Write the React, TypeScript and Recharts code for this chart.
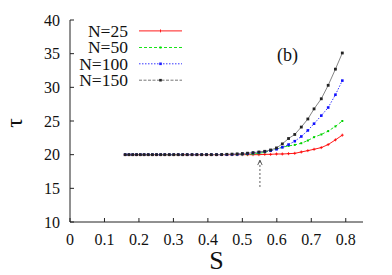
import React from "react";
import {
  LineChart,
  Line,
  XAxis,
  YAxis,
  ReferenceLine,
  ReferenceDot,
} from "recharts";

// S values (x axis)
const sValues = [
  0.16, 0.171, 0.182, 0.193, 0.204, 0.215, 0.227, 0.239, 0.251, 0.263, 0.275,
  0.288, 0.301, 0.314, 0.327, 0.34, 0.354, 0.368, 0.382, 0.396, 0.41, 0.425,
  0.44, 0.455, 0.47, 0.485, 0.5, 0.515, 0.531, 0.548, 0.565, 0.582, 0.599,
  0.616, 0.634, 0.652, 0.671, 0.69, 0.708, 0.729, 0.749, 0.77, 0.79,
];

const tauN25 = [
  20, 20, 20, 20, 20, 20, 20, 20, 20, 20, 20, 20, 20, 20, 20, 20, 20, 20, 20,
  20, 20, 20, 20, 20, 20, 20, 20, 20, 20, 20, 20.05, 20.05, 20.1, 20.1, 20.15,
  20.2, 20.4, 20.6, 20.8, 21.05, 21.5, 22.2, 22.9,
];

const tauN50 = [
  20, 20, 20, 20, 20, 20, 20, 20, 20, 20, 20, 20, 20, 20, 20, 20, 20, 20, 20,
  20, 20, 20, 20, 20, 20, 20, 20.02, 20.05, 20.1, 20.2, 20.35, 20.6, 20.85,
  21.1, 21.3, 21.45, 21.7, 22.1, 22.6, 23.0, 23.5, 24.2, 25.0,
];

const tauN100 = [
  20, 20, 20, 20, 20, 20, 20, 20, 20, 20, 20, 20, 20, 20, 20, 20, 20, 20, 20,
  20, 20, 20, 20, 20, 20.03, 20.05, 20.1, 20.15, 20.25, 20.35, 20.45, 20.6,
  20.8, 21.1, 21.5, 22.0, 22.7, 23.6, 24.6, 25.8, 27.0, 28.9, 31.0,
];

const tauN150 = [
  20, 20, 20, 20, 20, 20, 20, 20, 20, 20, 20, 20, 20, 20, 20, 20, 20, 20, 20,
  20, 20, 20, 20.02, 20.05, 20.08, 20.12, 20.17, 20.22, 20.3, 20.4, 20.5, 20.7,
  21.0, 21.6, 22.4, 23.0, 24.1, 25.3, 26.8, 28.3, 30.3, 32.7, 35.1,
];

const xTicks = [0, 0.1, 0.2, 0.3, 0.4, 0.5, 0.6, 0.7, 0.8];
const yTicks = [10, 15, 20, 25, 30, 35, 40];
const seriesNames = ["N=25", "N=50", "N=100", "N=150"];

const arrowS = 0.551;
const arrowFrom = 15.2;
const arrowTo = 19.2;

const data = sValues.map((s, i) => ({
  s,
  n25: tauN25[i],
  n50: tauN50[i],
  n100: tauN100[i],
  n150: tauN150[i],
}));

const font = "'Liberation Serif', 'Times New Roman', serif";
const axisColor = "#222";

const plusDot = (color: string) => (props: any) => {
  const { cx, cy, index } = props;
  return (
    <g key={`p-${index}`}>
      <line x1={cx - 1.5} x2={cx + 1.5} y1={cy} y2={cy} stroke={color} strokeWidth={0.8} />
      <line x1={cx} x2={cx} y1={cy - 1.5} y2={cy + 1.5} stroke={color} strokeWidth={0.8} />
    </g>
  );
};

const squareDot = (color: string, size: number) => (props: any) => {
  const { cx, cy, index } = props;
  return (
    <rect
      key={`q-${index}`}
      x={cx - size / 2}
      y={cy - size / 2}
      width={size}
      height={size}
      fill={color}
    />
  );
};

const legendStyles = [
  { stroke: "#ff0000", dash: undefined, marker: "plus" },
  { stroke: "#00e000", dash: "3 2", marker: "sq2" },
  { stroke: "#2020ff", dash: "1.5 1.5", marker: "sq3" },
  { stroke: "#666", dash: "3 1.5", marker: "sq3k" },
];

const LegendBox = () => {
  const baselines = [36.7, 53.3, 69.6, 86];
  return (
    <svg
      width={392}
      height={275}
      style={{ position: "absolute", left: 0, top: 0, pointerEvents: "none" }}
    >
      {seriesNames.map((name, i) => {
        const st = legendStyles[i];
        const ly = baselines[i] - 5.8;
        const mx = 160.5;
        return (
          <g key={name}>
            <text
              x={128}
              y={baselines[i]}
              textAnchor="end"
              fontFamily={font}
              fontSize={17.5}
              fill="#111"
            >
              {name}
            </text>
            <line
              x1={139}
              x2={182}
              y1={ly}
              y2={ly}
              stroke={st.stroke}
              strokeWidth={0.9}
              strokeDasharray={st.dash}
            />
            {st.marker === "plus" && (
              <line x1={mx} x2={mx} y1={ly - 1.5} y2={ly + 1.5} stroke={st.stroke} strokeWidth={0.8} />
            )}
            {st.marker === "sq2" && (
              <rect x={mx - 1} y={ly - 1} width={2} height={2} fill={st.stroke} />
            )}
            {st.marker === "sq3" && (
              <rect x={mx - 1.3} y={ly - 1.3} width={2.6} height={2.6} fill={st.stroke} />
            )}
            {st.marker === "sq3k" && (
              <rect x={mx - 1.3} y={ly - 1.3} width={2.6} height={2.6} fill="#222" />
            )}
          </g>
        );
      })}
      <text x={287.5} y={61} textAnchor="middle" fontFamily={font} fontSize={18} fill="#111">
        (b)
      </text>
    </svg>
  );
};

const arrowHead = (props: any) => {
  const { cx, cy } = props;
  return (
    <path
      d={`M${cx - 2.2},${cy + 5} L${cx},${cy} L${cx + 2.2},${cy + 5}`}
      fill="none"
      stroke="#333"
      strokeWidth={0.8}
    />
  );
};

export default function App() {
  return (
    <div
      style={{
        position: "fixed",
        left: 0,
        top: 0,
        width: 392,
        height: 275,
        background: "#fff",
      }}
    >
      <LineChart
        width={392}
        height={275}
        data={data}
        margin={{ top: 20, right: 29, bottom: 0, left: 0 }}
      >
        <XAxis
          dataKey="s"
          type="number"
          domain={[0, 0.85]}
          ticks={xTicks}
          height={53}
          tickSize={-4}
          tickMargin={16}
          stroke={axisColor}
          tick={{ fontFamily: font, fontSize: 16, fill: "#111" }}
          label={{
            value: "S",
            position: "insideBottom",
            offset: 6,
            fontFamily: font,
            fontSize: 26,
            fill: "#111",
          }}
        />
        <XAxis
          xAxisId="top"
          orientation="top"
          type="number"
          domain={[0, 0.85]}
          ticks={xTicks}
          height={0}
          tickSize={-4}
          tick={false}
          stroke={axisColor}
        />
        <YAxis
          type="number"
          domain={[10, 40]}
          ticks={yTicks}
          width={70}
          tickSize={-4}
          tickMargin={14}
          stroke={axisColor}
          tick={{ fontFamily: font, fontSize: 16, fill: "#111" }}
          label={{
            content: () => (
              <text
                x={22}
                y={123}
                transform="rotate(-90, 22, 123)"
                textAnchor="middle"
                fontFamily={font}
                fontSize={24}
                fill="#111"
              >
                τ
              </text>
            ),
          }}
        />
        <YAxis
          yAxisId="right"
          orientation="right"
          type="number"
          domain={[10, 40]}
          ticks={yTicks}
          width={0}
          tickSize={-4}
          tick={false}
          stroke={axisColor}
        />
        <ReferenceLine
          segment={[
            { x: arrowS, y: arrowFrom },
            { x: arrowS, y: arrowTo },
          ]}
          stroke="#333"
          strokeWidth={0.8}
          strokeDasharray="2 2"
        />
        <ReferenceDot x={arrowS} y={arrowTo} r={0} shape={arrowHead} />
        <Line
          dataKey="n25"
          stroke="#ff0000"
          strokeWidth={0.9}
          dot={plusDot("#ff0000")}
          isAnimationActive={false}
        />
        <Line
          dataKey="n50"
          stroke="#00e000"
          strokeWidth={0.9}
          strokeDasharray="3 2"
          dot={squareDot("#00d000", 2)}
          isAnimationActive={false}
        />
        <Line
          dataKey="n100"
          stroke="#2020ff"
          strokeWidth={0.9}
          strokeDasharray="1.5 1.5"
          dot={squareDot("#1010ff", 2.6)}
          isAnimationActive={false}
        />
        <Line
          dataKey="n150"
          stroke="#777"
          strokeWidth={0.9}
          dot={squareDot("#222", 2.8)}
          isAnimationActive={false}
        />
      </LineChart>
      <LegendBox />
    </div>
  );
}
